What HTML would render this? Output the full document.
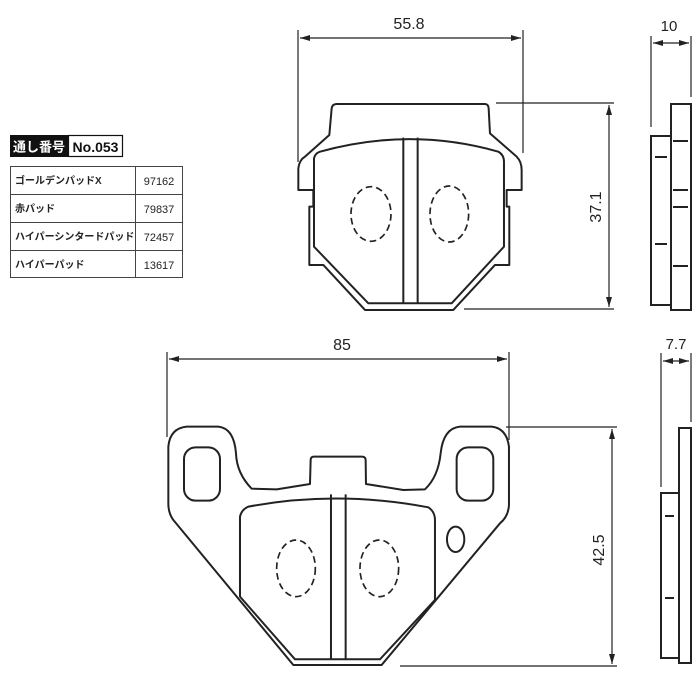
<!DOCTYPE html>
<html><head><meta charset="utf-8"><style>
html,body{margin:0;padding:0;background:#fff;}
svg{display:block;}
text{font-family:"Liberation Sans","Noto Sans CJK JP",sans-serif;}
</style></head><body>
<svg width="700" height="700" viewBox="0 0 700 700" xmlns="http://www.w3.org/2000/svg">
<defs>
<marker id="ar" viewBox="0 0 10 6" refX="10" refY="3" markerWidth="10" markerHeight="6" orient="auto-start-reverse" markerUnits="userSpaceOnUse"><path d="M0,0 L10,3 L0,6 z" fill="#222"/></marker>
</defs>
<!-- table -->
<rect x="10" y="135" width="58" height="22" fill="#111"/>
<text x="39" y="151.5" font-size="13" font-weight="bold" fill="#fff" text-anchor="middle">通し番号</text>
<rect x="68.5" y="135.5" width="54" height="21" fill="#fff" stroke="#111" stroke-width="1.2"/>
<text x="95.5" y="152" font-size="14" font-weight="bold" fill="#111" text-anchor="middle">No.053</text>
<g stroke="#444" stroke-width="1" fill="none">
<rect x="10.5" y="166.5" width="172" height="111"/>
<line x1="10" y1="194.5" x2="183" y2="194.5"/>
<line x1="10" y1="222.5" x2="183" y2="222.5"/>
<line x1="10" y1="250.5" x2="183" y2="250.5"/>
<line x1="135.5" y1="166" x2="135.5" y2="278"/>
</g>
<g font-size="10" font-weight="bold" fill="#222">
<text x="15" y="184">ゴールデンパッドX</text>
<text x="15" y="212">赤パッド</text>
<text x="15" y="240">ハイパーシンタードパッド</text>
<text x="15" y="268">ハイパーパッド</text>
</g>
<g font-size="11" fill="#222" text-anchor="middle">
<text x="159" y="185">97162</text>
<text x="159" y="213">79837</text>
<text x="159" y="241">72457</text>
<text x="159" y="269">13617</text>
</g>

<!-- top pad dims -->
<g stroke="#222" stroke-width="1.2" fill="none">
<line x1="298" y1="30" x2="298" y2="162"/>
<line x1="523" y1="30" x2="523" y2="153"/>
<line x1="300" y1="38" x2="521" y2="38" marker-start="url(#ar)" marker-end="url(#ar)"/>
<line x1="496" y1="103" x2="614" y2="103"/>
<line x1="464" y1="309" x2="614" y2="309"/>
<line x1="609" y1="105" x2="609" y2="307" marker-start="url(#ar)" marker-end="url(#ar)"/>
</g>
<text x="409" y="29" font-size="16" fill="#222" text-anchor="middle">55.8</text>
<text transform="translate(601,207) rotate(-90)" font-size="16" fill="#222" text-anchor="middle">37.1</text>

<!-- top pad -->
<g transform="translate(290,90) scale(0.3333)" stroke="#222" stroke-width="6" fill="none" stroke-linejoin="round">
<path d="M140,42 L585,42 Q595,42 596,55 L600,130 L680,200 Q695,215 695,240 L695,300 L650,300 L650,350 L658,350 L658,525 L615,525 L490,660 L225,660 L100,525 L58,525 L58,350 L70,350 L70,300 L25,300 L25,235 Q28,210 45,200 L118,135 L125,55 Q127,42 140,42 Z"/>
<path d="M90,185 Q360,110 625,185 Q642,195 642,215 L642,470 L485,640 L235,640 L72,470 L72,205 Q75,190 90,185 Z"/>
<line x1="340" y1="143" x2="340" y2="640"/>
<line x1="383" y1="143" x2="383" y2="640"/>
<g stroke-dasharray="20,12" stroke-width="5">
<ellipse cx="243" cy="372" rx="60" ry="82"/>
<ellipse cx="478" cy="372" rx="58" ry="84"/>
</g>
</g>

<!-- bottom pad dims -->
<g stroke="#222" stroke-width="1.2" fill="none">
<line x1="167" y1="352" x2="167" y2="437"/>
<line x1="509" y1="352" x2="509" y2="440"/>
<line x1="169" y1="359" x2="507" y2="359" marker-start="url(#ar)" marker-end="url(#ar)"/>
<line x1="506" y1="427" x2="617" y2="427"/>
<line x1="400" y1="666" x2="617" y2="666"/>
<line x1="612" y1="429" x2="612" y2="664" marker-start="url(#ar)" marker-end="url(#ar)"/>
</g>
<text x="342" y="350" font-size="16" fill="#222" text-anchor="middle">85</text>
<text transform="translate(604,550) rotate(-90)" font-size="16" fill="#222" text-anchor="middle">42.5</text>

<!-- bottom pad -->
<g transform="translate(160,410) scale(0.3333)" stroke="#222" stroke-width="6" fill="none" stroke-linejoin="round">
<path d="M80,50 L175,50 Q222,55 228,130 Q230,190 275,236 L350,238 L450,222 L452,150 Q452,140 462,140 L605,140 Q617,140 617,150 L618,222 L730,240 L795,238 Q835,200 842,130 Q850,55 900,50 L995,50 Q1040,55 1047,110 L1047,285 Q1045,320 1020,340 L665,765 L400,765 L40,330 Q25,310 25,280 L25,110 Q30,55 80,50 Z"/>
<rect x="72" y="112" width="108" height="160" rx="35"/>
<rect x="890" y="112" width="110" height="160" rx="35"/>
<ellipse cx="887" cy="388" rx="26" ry="38"/>
<path d="M265,290 Q530,240 805,292 Q825,305 825,330 L825,570 L660,748 L405,748 L240,560 L240,320 Q245,298 265,290 Z"/>
<line x1="513" y1="253" x2="513" y2="748"/>
<line x1="557" y1="253" x2="557" y2="748"/>
<g stroke-dasharray="20,12" stroke-width="5">
<ellipse cx="408" cy="475" rx="58" ry="85"/>
<ellipse cx="658" cy="475" rx="58" ry="85"/>
</g>
</g>

<!-- side view top -->
<g stroke="#222" stroke-width="1.2" fill="none">
<line x1="651" y1="36" x2="651" y2="127"/>
<line x1="691" y1="36" x2="691" y2="97"/>
<line x1="653" y1="43" x2="689" y2="43" marker-start="url(#ar)" marker-end="url(#ar)"/>
<line x1="661" y1="353" x2="661" y2="487"/>
<line x1="691" y1="353" x2="691" y2="422"/>
<line x1="663" y1="361" x2="689" y2="361" marker-start="url(#ar)" marker-end="url(#ar)"/>
</g>
<text x="669" y="31" font-size="15" fill="#222" text-anchor="middle">10</text>
<text x="676" y="349" font-size="15" fill="#222" text-anchor="middle">7.7</text>
<g stroke="#222" stroke-width="2" fill="none">
<rect x="671" y="104" width="20" height="206"/>
<rect x="651" y="136" width="20" height="169"/>
<line x1="673" y1="141" x2="688" y2="141"/>
<line x1="673" y1="190" x2="688" y2="190"/>
<line x1="673" y1="207" x2="688" y2="207"/>
<line x1="673" y1="266" x2="688" y2="266"/>
<line x1="655" y1="157" x2="667" y2="157"/>
<line x1="655" y1="244" x2="667" y2="244"/>
<rect x="679" y="428" width="12" height="235"/>
<rect x="661" y="493" width="18" height="165"/>
<line x1="665" y1="516" x2="674" y2="516"/>
<line x1="665" y1="598" x2="674" y2="598"/>
</g>
</svg>
</body></html>
